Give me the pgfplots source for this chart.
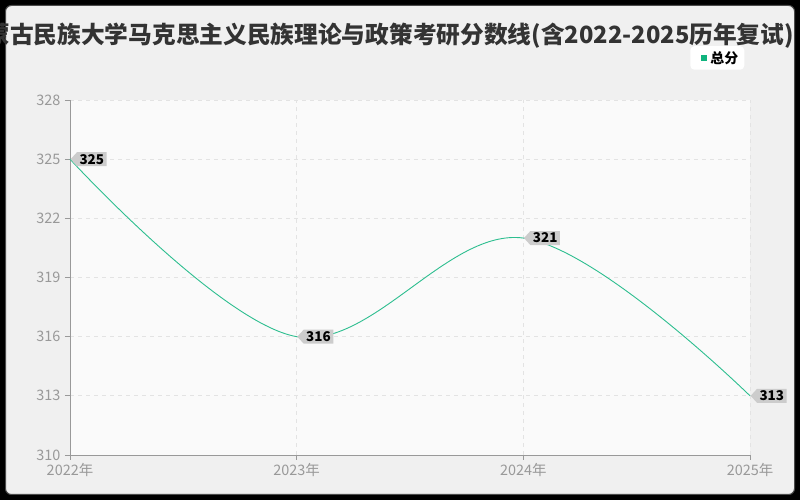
\documentclass[border=0pt]{standalone}
\usepackage{fontspec}
\setmainfont{Noto Sans CJK SC}
\usepackage{pgfplots}
\pgfplotsset{compat=1.18}
\usetikzlibrary{shapes.symbols}
\definecolor{lc}{HTML}{2DBE8F}
\definecolor{mk}{HTML}{10B47E}
\definecolor{panel}{HTML}{F0F0F0}
\definecolor{titlec}{HTML}{333333}
\definecolor{tickc}{HTML}{999999}
\definecolor{gridc}{HTML}{E3E3E3}
\definecolor{boxc}{HTML}{CCCCCC}
\begin{document}
\begin{tikzpicture}[x=1bp,y=1bp]
\useasboundingbox (0,0) rectangle (800,500);
\fill[black] (0,0) rectangle (800,500);
\filldraw[fill=panel, draw=black!70, line width=1bp, rounded corners=6bp] (5.5,5.5) rectangle (794.5,494.5);
% title is wider than the panel, as in the reference
\node[anchor=east, inner sep=0pt, text=titlec, font=\fontsize{23.8}{28}\selectfont\bfseries] at (794,464)
  {内蒙古民族大学马克思主义民族理论与政策考研分数线(含2022-2025历年复试)};
\begin{axis}[
  at={(70bp,45bp)}, anchor=south west,
  scale only axis, width=680bp, height=355bp,
  xmin=0, xmax=3, ymin=310, ymax=328,
  xtick={0,1,2,3},
  xticklabels={2022年,2023年,2024年,2025年},
  ytick={310,313,316,319,322,325,328},
  axis lines*=left,
  axis line style={color=tickc, line width=0.8bp},
  tick style={color=tickc, line width=0.8bp},
  tick align=outside, major tick length=5bp,
  grid=major,
  major grid style={color=gridc, dash pattern=on 4bp off 4bp, line width=0.8bp},
  axis background/.style={fill=white!98!black},
  tick label style={text=tickc, font=\fontsize{14.5}{16}\selectfont},
  yticklabel style={xshift=-1bp},
  /pgf/number format/assume math mode=true,
  clip=false,
  legend style={at={(0.912,1.152)}, anchor=north west, fill=white, draw=none,
    rounded corners=4bp, font=\fontsize{14}{16}\selectfont\bfseries,
    inner xsep=4bp, inner ysep=3bp},
  legend cell align=left,
]
\addplot[color=lc, line width=0.9bp, smooth, tension=0.6, forget plot,
  nodes near coords,
  every node near coord/.append style={signal, signal to=west, signal pointer angle=95,
    fill=boxc, anchor=west, text=black, font=\fontsize{13.5}{15}\selectfont\bfseries,
    inner xsep=2.5bp, inner ysep=0pt, minimum height=14bp},
] coordinates {
  (0,325) (1,316) (2,321) (3,313)
};
\addlegendimage{draw=none, legend image code/.code={
  \path[draw=none, fill=none] (0bp,-3bp) rectangle (14bp,3bp);
  \fill[mk, sharp corners, draw=none] (7bp,-3bp) rectangle (13bp,3bp);}}
\addlegendentry{总分}
\end{axis}
\end{tikzpicture}
\end{document}
